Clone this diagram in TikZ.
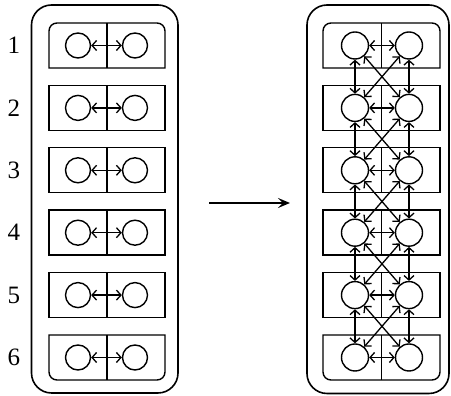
\documentclass[tikz,border=0pt]{standalone}
\usepackage{fontspec}
\setmainfont{Liberation Serif}
\usetikzlibrary{arrows.meta}
\begin{document}
\begin{tikzpicture}[x=1pt,y=1pt,
  frame/.style={line width=1.6pt,rounded corners=20pt},
  box/.style={line width=1.4pt},
  lcirc/.style={circle,draw,line width=1.4pt,minimum size=25pt,inner sep=0pt},
  rcirc/.style={circle,draw,line width=1.4pt,minimum size=27pt,inner sep=0pt},
  dbl/.style={line width=1.3pt,{Straight Barb[length=4.5pt,width=10pt]}-{Straight Barb[length=4.5pt,width=10pt]}},
  lab/.style={font=\fontsize{25}{25}\selectfont,inner sep=0pt},
  main/.style={line width=1.8pt,-{Stealth[length=12pt,width=10pt,inset=5pt]}}]
\useasboundingbox (0,0) rectangle (451,396);
% outer frames
\draw[frame] (31.5,3) rectangle (178,391);
\draw[frame] (307,2.5) rectangle (449,391);
% rows
\foreach \i in {1,...,6}{
  \pgfmathsetmacro{\c}{350.5-(\i-1)*62.4}
  \pgfmathsetmacro{\t}{\c+22.5}
  \pgfmathsetmacro{\b}{\c-22.5}
  \node[lab] (n\i) at (14,\c) {\i};
  % boxes
  \ifnum\i=1
    \draw[box] (49,\b) -- (49,\t-8) arc[start angle=180,end angle=90,radius=8] -- (157,\t) arc[start angle=90,end angle=0,radius=8] -- (165,\b) -- cycle;
    \draw[box] (323,\b) -- (323,\t-8) arc[start angle=180,end angle=90,radius=8] -- (432,\t) arc[start angle=90,end angle=0,radius=8] -- (440,\b) -- cycle;
  \else\ifnum\i=6
    \draw[box] (49,\t) -- (49,\b+8) arc[start angle=180,end angle=270,radius=8] -- (157,\b) arc[start angle=270,end angle=360,radius=8] -- (165,\t) -- cycle;
    \draw[box] (323,\t) -- (323,\b+8) arc[start angle=180,end angle=270,radius=8] -- (432,\b) arc[start angle=270,end angle=360,radius=8] -- (440,\t) -- cycle;
  \else
    \draw[box] (49,\b) rectangle (165,\t);
    \draw[box] (323,\b) rectangle (440,\t);
  \fi\fi
  \draw[box] (107,\b) -- (107,\t);
  \draw[box] (381.5,\b) -- (381.5,\t);
  % circles
  \node[lcirc] (a\i) at (78,\c) {};
  \node[lcirc] (b\i) at (135,\c) {};
  \node[rcirc] (p\i) at (355,\c) {};
  \node[rcirc] (q\i) at (409,\c) {};
  \draw[dbl] (a\i) -- (b\i);
  \draw[dbl] (p\i) -- (q\i);
}
\foreach \i [evaluate=\i as \j using int(\i+1)] in {1,...,5}{
  \draw[dbl] (p\i) -- (p\j);
  \draw[dbl] (q\i) -- (q\j);
  \draw[dbl] (p\i) -- (q\j);
  \draw[dbl] (q\i) -- (p\j);
}
\coordinate (s) at (209,193);
\coordinate (e) at (290,193);
\draw[main] (s) -- (e);
\end{tikzpicture}
\end{document}
